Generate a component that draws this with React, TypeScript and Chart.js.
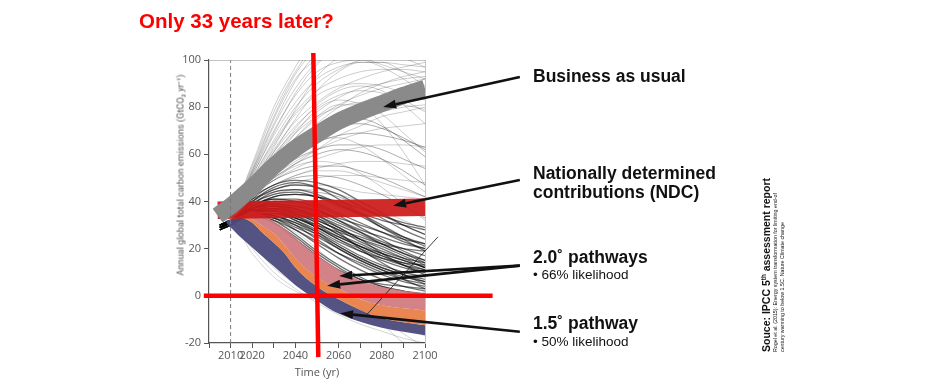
import React, { useEffect, useRef } from 'react';
import { Chart, registerables } from 'chart.js';

Chart.register(...registerables);

// ---------- data ----------
const scenarioYears = [2005, 2010, 2020, 2030, 2040, 2050, 2060, 2070, 2080, 2090, 2100];

// light grey scenarios that keep rising or stay high
const risingScenarios: number[][] = [
  [33, 35, 56, 80, 97, 112, 120, 125, 128, 130, 130],
  [33, 35, 54, 76, 94, 105, 110, 112, 112, 110, 108],
  [33, 35, 52, 72, 88, 99, 104, 105, 104, 102, 100],
  [33, 35, 51, 68, 82, 92, 97, 99, 99, 98, 97],
  [33, 35, 50, 65, 78, 87, 92, 95, 96, 96, 95],
  [33, 35, 49, 62, 74, 82, 88, 92, 95, 97, 99],
  [33, 35, 48, 60, 70, 78, 84, 88, 90, 92, 93],
  [33, 35, 47, 57, 67, 75, 81, 85, 88, 90, 92],
  [33, 35, 46, 55, 63, 70, 75, 80, 84, 88, 92],
  [33, 35, 45, 53, 60, 66, 71, 75, 78, 80, 81],
  [33, 35, 44, 51, 57, 62, 66, 69, 71, 72, 73],
  [33, 35, 43, 49, 54, 58, 61, 63, 64, 64, 63],
  [33, 35, 42, 47, 51, 54, 56, 57, 57, 56, 55],
  [33, 35, 46, 59, 71, 81, 87, 89, 87, 81, 73],
  [33, 35, 47, 61, 75, 87, 95, 99, 99, 95, 89],
  [33, 35, 45, 56, 67, 76, 81, 81, 77, 69, 61],
  [33, 35, 44, 53, 61, 66, 67, 64, 58, 51, 44],
  [33, 35, 43, 50, 55, 57, 56, 52, 46, 39, 32],
  [33, 35, 45, 57, 69, 79, 83, 81, 73, 61, 47],
  [33, 35, 48, 63, 79, 93, 101, 105, 105, 101, 97],
  [33, 35, 53, 73, 91, 103, 111, 115, 117, 118, 118],
  [33, 35, 41, 45, 48, 50, 51, 51, 50, 49, 48],
  [33, 35, 41, 45, 47, 47, 46, 44, 43, 42, 41],
  [33, 35, 42, 47, 51, 53, 53, 51, 48, 45, 42],
  [33, 35, 40, 43, 45, 45, 43, 40, 36, 32, 28],
  [33, 35, 42, 49, 56, 62, 68, 72, 76, 78, 80],
  [33, 35, 44, 54, 64, 73, 80, 86, 90, 93, 95],
  [33, 35, 55, 78, 95, 108, 115, 118, 119, 118, 116],
  [33, 35, 53, 75, 92, 100, 102, 101, 98, 95, 92],
  [33, 35, 50, 66, 80, 90, 96, 100, 102, 103, 104],
  [33, 35, 49, 64, 77, 85, 89, 90, 89, 86, 83],
  [33, 35, 52, 70, 85, 95, 99, 100, 97, 92, 86],
  [33, 35, 47, 59, 69, 76, 80, 82, 82, 81, 79],
  [33, 35, 51, 69, 86, 98, 106, 110, 112, 113, 113],
  [33, 35, 48, 61, 72, 80, 85, 87, 86, 83, 78],
];

// medium grey scenarios between the NDC and BAU bands
const plateauScenarios: number[][] = [
  [33, 35, 44, 52, 58, 62, 64, 64, 62, 58, 54],
  [33, 35, 43, 49, 53, 55, 55, 53, 50, 46, 42],
  [33, 35, 42, 47, 50, 51, 50, 47, 43, 38, 33],
  [33, 35, 45, 55, 63, 69, 72, 73, 71, 67, 62],
  [33, 35, 41, 44, 45, 44, 42, 38, 34, 30, 26],
  [33, 35, 43, 50, 56, 60, 62, 61, 58, 53, 47],
  [33, 35, 46, 57, 66, 72, 75, 75, 72, 66, 59],
  [33, 35, 44, 53, 60, 65, 68, 69, 68, 66, 63],
];

// dense dark bundle of scenarios that peak and decline
const coreScenarios: number[][] = [
  [29, 31, 38, 41, 41, 39, 35, 31, 27, 23, 20],
  [30, 32, 37, 39, 38, 35, 31, 27, 23, 20, 17],
  [28, 31, 37, 38, 36, 32, 28, 23, 19, 16, 14],
  [29, 31, 36, 37, 34, 29, 24, 19, 15, 12, 10],
  [30, 32, 36, 36, 32, 27, 21, 16, 12, 9, 7],
  [28, 30, 35, 34, 30, 24, 18, 13, 9, 6, 4],
  [29, 31, 35, 33, 28, 22, 16, 11, 7, 4, 2],
  [30, 32, 34, 32, 26, 19, 13, 8, 4, 2, 0],
  [28, 30, 34, 31, 25, 18, 12, 7, 4, 2, 1],
  [29, 31, 35, 35, 32, 28, 23, 19, 16, 14, 13],
  [30, 32, 36, 37, 35, 32, 28, 25, 22, 20, 19],
  [29, 31, 37, 40, 40, 38, 34, 29, 24, 19, 15],
  [30, 32, 38, 42, 43, 42, 39, 35, 30, 25, 21],
  [28, 30, 36, 36, 33, 30, 27, 24, 21, 17, 13],
  [29, 31, 35, 34, 31, 27, 22, 17, 13, 10, 8],
  [30, 32, 34, 31, 24, 17, 11, 7, 5, 4, 3],
  [28, 31, 35, 37, 36, 33, 27, 20, 14, 9, 5],
  [29, 32, 37, 39, 37, 33, 29, 24, 18, 13, 9],
  [30, 31, 36, 38, 37, 34, 30, 26, 22, 18, 15],
  [29, 31, 34, 33, 29, 25, 20, 15, 11, 8, 6],
  [29, 31, 37, 40, 39, 36, 32, 28, 25, 22, 20],
  [30, 32, 36, 38, 37, 34, 29, 24, 20, 16, 12],
  [28, 30, 35, 36, 34, 30, 25, 21, 17, 14, 11],
  [29, 31, 36, 37, 35, 31, 26, 21, 17, 13, 10],
  [30, 32, 37, 39, 38, 36, 33, 30, 27, 24, 22],
  [29, 31, 35, 35, 33, 29, 25, 21, 18, 15, 12],
  [28, 30, 34, 33, 30, 26, 21, 16, 12, 9, 6],
  [30, 32, 38, 41, 40, 37, 32, 27, 22, 18, 14],
  [29, 31, 36, 36, 33, 29, 24, 20, 16, 13, 11],
  [30, 32, 37, 38, 35, 31, 26, 22, 18, 15, 12],
  [29, 31, 34, 32, 28, 23, 18, 14, 10, 7, 5],
  [28, 30, 35, 34, 31, 26, 20, 15, 11, 7, 3],
  [30, 32, 40, 45, 47, 46, 43, 38, 33, 28, 24],
  [29, 31, 41, 47, 49, 48, 45, 40, 35, 30, 26],
  [30, 32, 39, 44, 45, 43, 39, 34, 29, 25, 22],
  [29, 31, 40, 46, 48, 46, 41, 35, 29, 24, 19],
  [30, 32, 39, 43, 44, 42, 38, 35, 32, 30, 28],
  [29, 31, 38, 42, 43, 42, 40, 37, 34, 31, 29],
];

// light grey scenarios with steep, early cuts (negative emissions)
const steepScenarios: number[][] = [
  [30, 31, 22, 12, 5, 0, -4, -8, -11, -14, -16],
  [30, 31, 25, 16, 8, 2, -3, -7, -10, -12, -13],
  [30, 31, 20, 10, 3, -3, -8, -12, -15, -18, -20],
  [30, 31, 18, 8, 2, -2, -5, -7, -9, -10, -11],
  [30, 31, 27, 20, 12, 5, 0, -4, -8, -12, -16],
  [30, 32, 30, 24, 16, 8, 2, -4, -10, -16, -22],
  [30, 32, 29, 22, 14, 7, 1, -5, -12, -20, -26],
  [30, 32, 31, 27, 21, 13, 5, -2, -8, -13, -17],
  [30, 32, 32, 29, 24, 17, 9, 1, -6, -12, -16],
  [30, 32, 33, 31, 27, 20, 12, 4, -4, -10, -14],
  [30, 31, 23, 14, 7, 2, -2, -6, -9, -11, -12],
  [30, 31, 21, 13, 6, 1, -3, -6, -8, -9, -10],
];

// pathway ranges (1.5° purple, orange, 2.0° pink)
const bandYears = [2008, 2015, 2020, 2025, 2030, 2035, 2040, 2045, 2050, 2055, 2060, 2070, 2080, 2090, 2100];
const purpleLow = [31, 24.5, 20.5, 16.5, 12.5, 8.5, 4.5, 1.2, -2, -5, -7.5, -11, -13.5, -15.2, -16.7];
const purpleHigh = [32, 33, 31, 26.5, 22.5, 18, 12, 7.5, 4, 1, -1.5, -6, -9.5, -11.2, -12.5];
const orangeHigh = [32, 33.5, 32.5, 29.5, 26.5, 21.5, 16, 11.5, 8, 5, 3, -1.5, -4, -5.3, -6.2];
const pinkHigh = [32, 34, 36, 34.5, 31.5, 28.5, 24.5, 20.5, 17, 14, 11, 6.5, 3.8, 2.2, 1];

// business as usual and NDC highlight bands
const bauYears = [2004, 2007, 2010, 2015, 2020, 2030, 2040, 2050, 2060, 2070, 2080, 2090, 2100];
const bauValues = [34, 36, 38, 42, 46, 55, 62.5, 68.5, 74, 78, 81.5, 85, 88];
const ndcYears = [2004, 2100];
const ndcValues = [36.3, 37.6];

// reference markers
const dashedYear = [2010, 2010];
const dashedValues = [-20, 100];
const cutoffYears = [2048.3, 2050.6];
const cutoffValues = [103, -26];
const zeroYears = [1997.6, 2131.3];
const zeroValues = [0, 0];
const leaderYears = [2073, 2106];
const leaderValues = [-8, 25];

// arrows (tail -> tip), data coordinates
const arrowTailYear = [2143.9, 2143.9, 2143.9, 2143.9, 2143.9];
const arrowTailValue = [92.8, 49.1, 12.8, 12.8, -15.2];
const arrowTipYear = [2080.6, 2085.2, 2060.3, 2054.7, 2060.7];
const arrowTipValue = [80.1, 38.2, 8.4, 4.3, -7.4];

const xLabelYears = [2010, 2020, 2040, 2060, 2080, 2100];

// ---------- helpers ----------
const pts = (xs: number[], ys: number[]) => xs.map((x, i) => ({ x, y: ys[i] }));

const arrowPlugin = {
  id: 'arrows',
  afterDatasetsDraw(chart: any) {
    const { ctx, scales } = chart;
    const xs = scales.x;
    const ys = scales.y;
    ctx.save();
    ctx.strokeStyle = '#111';
    ctx.fillStyle = '#111';
    ctx.lineWidth = 2.6;
    arrowTipYear.forEach((_, i) => {
      const x0 = xs.getPixelForValue(arrowTailYear[i]);
      const y0 = ys.getPixelForValue(arrowTailValue[i]);
      const x1 = xs.getPixelForValue(arrowTipYear[i]);
      const y1 = ys.getPixelForValue(arrowTipValue[i]);
      const a = Math.atan2(y1 - y0, x1 - x0);
      const len = 13;
      const half = 4.5;
      const bx = x1 - len * Math.cos(a);
      const by = y1 - len * Math.sin(a);
      ctx.beginPath();
      ctx.moveTo(x0, y0);
      ctx.lineTo(bx, by);
      ctx.stroke();
      ctx.beginPath();
      ctx.moveTo(x1, y1);
      ctx.lineTo(bx + half * Math.sin(a), by - half * Math.cos(a));
      ctx.lineTo(bx - half * Math.sin(a), by + half * Math.cos(a));
      ctx.closePath();
      ctx.fill();
    });
    ctx.restore();
  },
};

const tickFont = { family: "'Open Sans', 'DejaVu Sans', sans-serif", size: 11 };

export default function App() {
  const canvasRef = useRef<HTMLCanvasElement | null>(null);

  useEffect(() => {
    if (!canvasRef.current) return;
    const datasets: any[] = [];
    const line = (data: any[], color: string, width: number, order: number, extra: any = {}) => {
      datasets.push({
        data,
        borderColor: color,
        borderWidth: width,
        pointRadius: 0,
        fill: false,
        cubicInterpolationMode: 'monotone',
        order,
        ...extra,
      });
      return datasets.length - 1;
    };

    risingScenarios.forEach((s) => line(pts(scenarioYears, s), 'rgba(0,0,0,0.2)', 1, 100));
    steepScenarios.forEach((s) => line(pts(scenarioYears, s), 'rgba(0,0,0,0.17)', 1, 100));
    plateauScenarios.forEach((s) => line(pts(scenarioYears, s), 'rgba(0,0,0,0.32)', 1, 100));
    coreScenarios.forEach((s) => line(pts(scenarioYears, s), 'rgba(0,0,0,0.55)', 1.3, 99));

    const pLow = line(pts(bandYears, purpleLow), 'rgba(0,0,0,0)', 0, 60);
    const pHigh = line(pts(bandYears, purpleHigh), 'rgba(0,0,0,0)', 0, 58, {
      fill: { target: pLow },
      backgroundColor: 'rgba(78,76,126,0.96)',
    });
    const oHigh = line(pts(bandYears, orangeHigh), 'rgba(0,0,0,0)', 0, 57, {
      fill: { target: pHigh },
      backgroundColor: 'rgba(232,128,72,0.95)',
    });
    line(pts(bandYears, pinkHigh), 'rgba(0,0,0,0)', 0, 56, {
      fill: { target: oHigh },
      backgroundColor: 'rgba(208,120,126,0.93)',
    });

    line(pts(ndcYears, ndcValues), 'rgba(206,26,26,0.93)', 17.5, 40, { borderCapStyle: 'butt' });
    line(pts(bauYears, bauValues), '#8a8a8a', 17, 30, { borderCapStyle: 'butt' });
    line(pts(dashedYear, dashedValues), '#777', 1, 20, { borderDash: [4, 3] });
    line(pts(leaderYears, leaderValues), 'rgba(30,30,30,0.85)', 1, 15, { clip: false });
    line(pts(cutoffYears, cutoffValues), '#ff0000', 4.5, 10, { clip: false });
    line(pts(zeroYears, zeroValues), '#ff0000', 4.5, 10, { clip: false });

    const chart = new Chart(canvasRef.current, {
      type: 'line',
      data: { datasets },
      plugins: [arrowPlugin],
      options: {
        animation: false,
        responsive: false,
        devicePixelRatio: 1,
        events: [],
        layout: { padding: { left: 0, right: 522, top: 60, bottom: 0 } },
        plugins: {
          legend: { display: false },
          tooltip: { enabled: false },
          title: { display: false },
        },
        scales: {
          x: {
            type: 'linear',
            position: 'bottom',
            min: 2000,
            max: 2100,
            afterFit: (s: any) => { s.height = 44; },
            border: { display: true, color: '#555', width: 1.2 },
            grid: { display: true, drawOnChartArea: false, drawTicks: true, tickLength: 5, color: '#555' },
            ticks: {
              stepSize: 10,
              autoSkip: false,
              maxRotation: 0,
              padding: 1,
              color: '#555',
              font: tickFont,
              callback: (v: any) => (xLabelYears.includes(Number(v)) ? String(v) : ''),
            },
            title: {
              display: true,
              text: 'Time (yr)',
              color: '#555',
              font: tickFont,
              padding: { top: 0, bottom: 8 },
            },
          },
          y: {
            type: 'linear',
            position: 'left',
            min: -20,
            max: 100,
            afterFit: (s: any) => { s.width = 209; },
            border: { display: true, color: '#555', width: 1.2 },
            grid: { display: true, drawOnChartArea: false, drawTicks: true, tickLength: 5, color: '#555' },
            ticks: { stepSize: 20, padding: 3, color: '#555', font: tickFont },
          },
          x2: {
            type: 'linear',
            position: 'top',
            min: 2000,
            max: 2100,
            afterFit: (s: any) => { s.height = 0; },
            border: { display: true, color: '#c4c4c4', width: 1 },
            grid: { display: false },
            ticks: { display: false },
          },
          y2: {
            type: 'linear',
            position: 'right',
            min: -20,
            max: 100,
            afterFit: (s: any) => { s.width = 0; },
            border: { display: true, color: '#c4c4c4', width: 1 },
            grid: { display: false },
            ticks: { display: false },
          },
        },
      },
    });
    return () => chart.destroy();
  }, []);

  const bold: React.CSSProperties = {
    position: 'absolute',
    left: 533,
    fontFamily: "'Liberation Sans', Arial, sans-serif",
    fontWeight: 700,
    fontSize: 17.5,
    lineHeight: '17.5px',
    color: '#111',
    whiteSpace: 'nowrap',
  };
  const sub: React.CSSProperties = {
    position: 'absolute',
    left: 533,
    fontFamily: "'Liberation Sans', Arial, sans-serif",
    fontSize: 13.5,
    lineHeight: '13.5px',
    color: '#111',
    whiteSpace: 'nowrap',
  };

  return (
    <div style={{ position: 'fixed', left: 0, top: 0, width: 947, height: 387, background: '#fff', overflow: 'hidden' }}>
      <canvas ref={canvasRef} width={947} height={387} style={{ position: 'absolute', left: 0, top: 0, width: 947, height: 387 }} />
      <div
        style={{
          position: 'absolute',
          left: 139,
          top: 10.6,
          fontFamily: "'Liberation Sans', Arial, sans-serif",
          fontWeight: 700,
          fontSize: 20.5,
          lineHeight: '20.5px',
          color: '#ff0000',
          whiteSpace: 'nowrap',
        }}
      >
        Only 33 years later?
      </div>
      <div
        style={{
          position: 'absolute',
          left: 180,
          top: 175,
          transform: 'translate(-50%, -50%) rotate(-90deg)',
          fontFamily: "Roboto, 'Open Sans', sans-serif",
          fontSize: 9.2,
          lineHeight: '11px',
          color: '#555',
          whiteSpace: 'nowrap',
        }}
      >
        Annual global total carbon emissions (GtCO₂ <i>yr</i>⁻¹)
      </div>
      <div style={{ ...bold, top: 67.7 }}>Business as usual</div>
      <div style={{ ...bold, top: 163.9, lineHeight: '18.7px' }}>
        Nationally determined
        <br />
        contributions (NDC)
      </div>
      <div style={{ ...bold, top: 248.5 }}>2.0˚ pathways</div>
      <div style={{ ...sub, top: 268 }}>• 66% likelihood</div>
      <div style={{ ...bold, top: 315.2 }}>1.5˚ pathway</div>
      <div style={{ ...sub, top: 334.7 }}>• 50% likelihood</div>
      <div
        style={{
          position: 'absolute',
          left: 760,
          top: 352,
          transform: 'rotate(-90deg)',
          transformOrigin: '0 0',
          fontFamily: "'Liberation Sans', Arial, sans-serif",
          color: '#111',
          whiteSpace: 'nowrap',
        }}
      >
        <div style={{ fontWeight: 700, fontSize: 10.5, lineHeight: '12px' }}>
          Souce: IPCC 5<sup style={{ fontSize: '0.6em', lineHeight: 0 }}>th</sup> assessment report
        </div>
        <div style={{ fontSize: 5.3, lineHeight: '6.5px' }}>
          Rogel et al. (2015): Energy system transformation for limiting end-of
          <br />
          century warming to below 1.5C. Nature Climate change
        </div>
      </div>
    </div>
  );
}
